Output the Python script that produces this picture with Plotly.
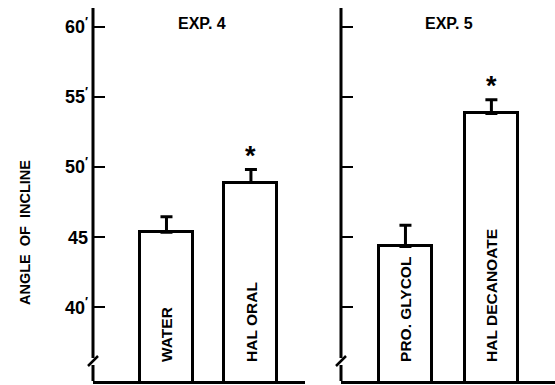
import plotly.graph_objects as go

# ---- data ----
exp4_categories = ["WATER", "HAL ORAL"]
exp4_means = [45.35, 48.9]
exp4_sem = [1.12, 0.93]
exp4_signif = [False, True]

exp5_categories = ["PRO. GLYCOL", "HAL DECANOATE"]
exp5_means = [44.35, 53.83]
exp5_sem = [1.5, 0.98]
exp5_signif = [False, True]

tick_vals = [40, 45, 50, 55, 60]
tick_text = ["40<sup>′</sup>", "45", "50<sup>′</sup>", "55<sup>′</sup>", "60<sup>′</sup>"]
panel_titles = ["EXP. 4", "EXP. 5"]
y_title = "ANGLE  OF  INCLINE"

W, H = 555, 385
ML, MR, MT, MB = 93, 0, 8, 4
PW = W - ML - MR
YRANGE = [34.75, 61.35]

FONT = "Liberation Sans, Arial, sans-serif"

fig = go.Figure()

panels = [
    (exp4_categories, exp4_means, exp4_sem, exp4_signif, "x", "y", 0.627, [-0.87, 1.64], 3),
    (exp5_categories, exp5_means, exp5_sem, exp5_signif, "x2", "y2", 0.616, [-0.75, 1.74], 1),
]

annotations = []
shapes = []
for i, (cats, means, sem, sig, xa, ya, bw, xr, tshift) in enumerate(panels):
    fig.add_trace(go.Bar(
        x=cats, y=means, width=bw, xaxis=xa, yaxis=ya,
        marker=dict(color="white", line=dict(color="black", width=3)),
        error_y=dict(type="data", array=sem, arrayminus=[0] * len(sem), symmetric=False,
                     color="black", thickness=3, width=6),
        showlegend=False, hoverinfo="skip",
    ))
    xref = xa
    yref = ya
    for c, m, s, g in zip(cats, means, sem, sig):
        annotations.append(dict(
            x=c, xref=xref, y=0, yref=f"{yref} domain", yshift=17,
            text=c, textangle=-90, showarrow=False, xanchor="center", yanchor="bottom",
            font=dict(family=FONT, size=15.5, color="black", weight="bold"),
        ))
        if g:
            annotations.append(dict(
                x=c, xref=xref, y=m + s, yref=yref, yshift=-3,
                text="*", showarrow=False, xanchor="center", yanchor="bottom",
                font=dict(family=FONT, size=27, color="black", weight="bold"),
            ))
    # panel title
    annotations.append(dict(
        x=0.5, xref=f"{xref} domain", xshift=tshift, y=61.35, yref=yref, yshift=-15,
        text=panel_titles[i], showarrow=False, xanchor="center", yanchor="middle",
        font=dict(family=FONT, size=16, color="black", weight="bold"),
    ))
    # y axis line with break
    for y0, y1 in [(23, 373), (0, 16)]:
        shapes.append(dict(
            type="line", xref=f"{xref} domain", x0=0, x1=0,
            yref=f"{yref} domain", ysizemode="pixel", yanchor=0, y0=y0, y1=y1,
            line=dict(color="black", width=3),
        ))
    shapes.append(dict(
        type="line", xref=f"{xref} domain", xsizemode="pixel", xanchor=0, x0=-5, x1=5,
        yref=f"{yref} domain", ysizemode="pixel", yanchor=0, y0=15, y1=25,
        line=dict(color="black", width=2.5),
    ))

annotations.append(dict(
    x=(25 - ML) / PW, xref="paper", xanchor="center",
    y=((H - MB) - 233) / (H - MT - MB), yref="paper", yanchor="middle",
    text=y_title, textangle=-90, showarrow=False,
    font=dict(family=FONT, size=14.5, color="black", weight="bold"),
))

d1 = (305 - ML) / PW
d2 = (341 - ML) / PW

axis_common = dict(showgrid=False, zeroline=False, showticklabels=False, ticks="",
                   showline=True, linecolor="black", linewidth=3, fixedrange=True)
yaxis_common = dict(range=YRANGE, showgrid=False, zeroline=False, showline=False,
                    ticks="inside", ticklen=12, tickwidth=2, tickcolor="black",
                    tickvals=tick_vals, fixedrange=True)

fig.update_layout(
    width=W, height=H,
    margin=dict(l=ML, r=MR, t=MT, b=MB),
    paper_bgcolor="white", plot_bgcolor="white",
    xaxis=dict(domain=[0, d1], range=panels[0][7], **axis_common),
    xaxis2=dict(domain=[d2, 1], range=panels[1][7], **axis_common),
    yaxis=dict(anchor="x", ticktext=tick_text, showticklabels=True, ticklabelstandoff=4,
               tickfont=dict(family=FONT, size=18, color="black", weight="bold"), **yaxis_common),
    yaxis2=dict(anchor="x2", showticklabels=False, **yaxis_common),
    annotations=annotations,
    shapes=shapes,
    bargap=0,
)

fig.write_html("out.html")
